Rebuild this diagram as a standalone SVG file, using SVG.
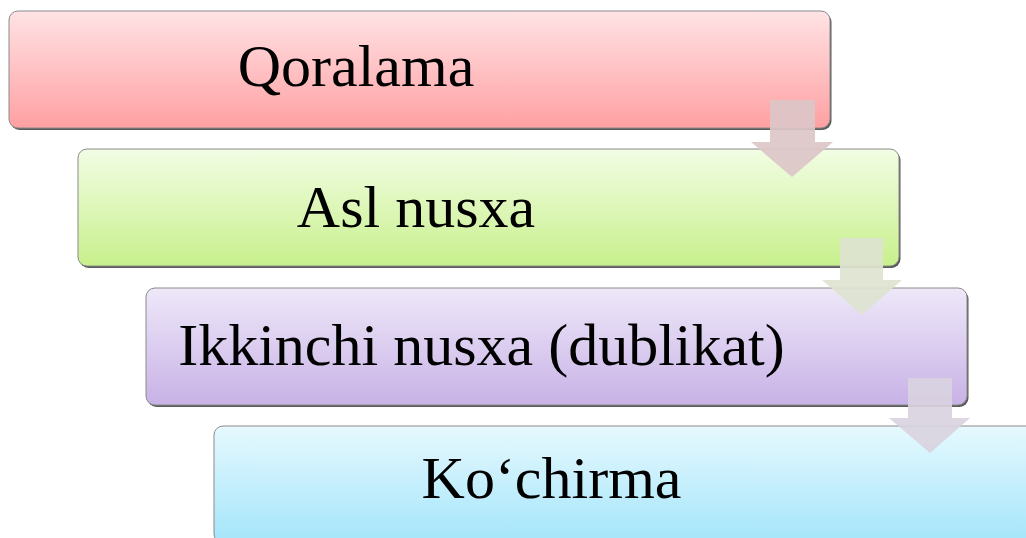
<svg xmlns="http://www.w3.org/2000/svg" width="1026" height="538" viewBox="0 0 1026 538">
<style>
.box{stroke:#8a8a8a;stroke-width:1}
.shadow{fill:#5a5a5a}
.lbl{font-family:"Liberation Serif","Times New Roman",serif;font-size:60px;fill:#000;text-anchor:middle}
</style>
<defs>
<linearGradient id="gRed" x1="0" y1="0" x2="0" y2="1"><stop offset="0" stop-color="#ffe3e5"/><stop offset="1" stop-color="#ffa0a2"/></linearGradient>
<linearGradient id="gGreen" x1="0" y1="0" x2="0" y2="1"><stop offset="0" stop-color="#f2fde4"/><stop offset="1" stop-color="#c8f08c"/></linearGradient>
<linearGradient id="gPurple" x1="0" y1="0" x2="0" y2="1"><stop offset="0" stop-color="#eee8f9"/><stop offset="1" stop-color="#c8b2e6"/></linearGradient>
<linearGradient id="gBlue" x1="0" y1="0" x2="0" y2="1"><stop offset="0" stop-color="#e6f9fe"/><stop offset="1" stop-color="#a4e5fb"/></linearGradient>
</defs>
<rect width="1026" height="538" fill="#ffffff"/>
<g id="node1">
<rect class="shadow" x="10.5" y="13" width="821" height="117" rx="9"/>
<rect class="box" x="9" y="11" width="821" height="117" rx="9" fill="url(#gRed)"/>
<text class="lbl" x="356" y="86">Qoralama</text>
</g>
<g id="node2">
<rect class="shadow" x="79.5" y="151" width="821" height="117" rx="9"/>
<rect class="box" x="78" y="149" width="821" height="117" rx="9" fill="url(#gGreen)"/>
<text class="lbl" x="416" y="227">Asl nusxa</text>
</g>
<g id="node3">
<rect class="shadow" x="147.5" y="290" width="821" height="117" rx="9"/>
<rect class="box" x="146" y="288" width="821" height="117" rx="9" fill="url(#gPurple)"/>
<text class="lbl" x="481.5" y="365">Ikkinchi nusxa (dublikat)</text>
</g>
<g id="node4">
<rect class="shadow" x="215.5" y="428" width="821" height="117" rx="9"/>
<rect class="box" x="214" y="426" width="821" height="117" rx="9" fill="url(#gBlue)"/>
<text class="lbl" x="551.5" y="498">Ko‘chirma</text>
</g>
<g id="connectors">
<polygon points="770,100 815,100 815,142 833,142 792,177 751,142 770,142" fill="#dcc6c8" fill-opacity="0.92"/>
<polygon points="840,238 883,238 883,280 902,280 862,315 822,280 840,280" fill="#dde3d0" fill-opacity="0.92"/>
<polygon points="908,378 952,378 952,418 970,418 930,453 889,418 908,418" fill="#d9d3e0" fill-opacity="0.92"/>
</g>
</svg>
